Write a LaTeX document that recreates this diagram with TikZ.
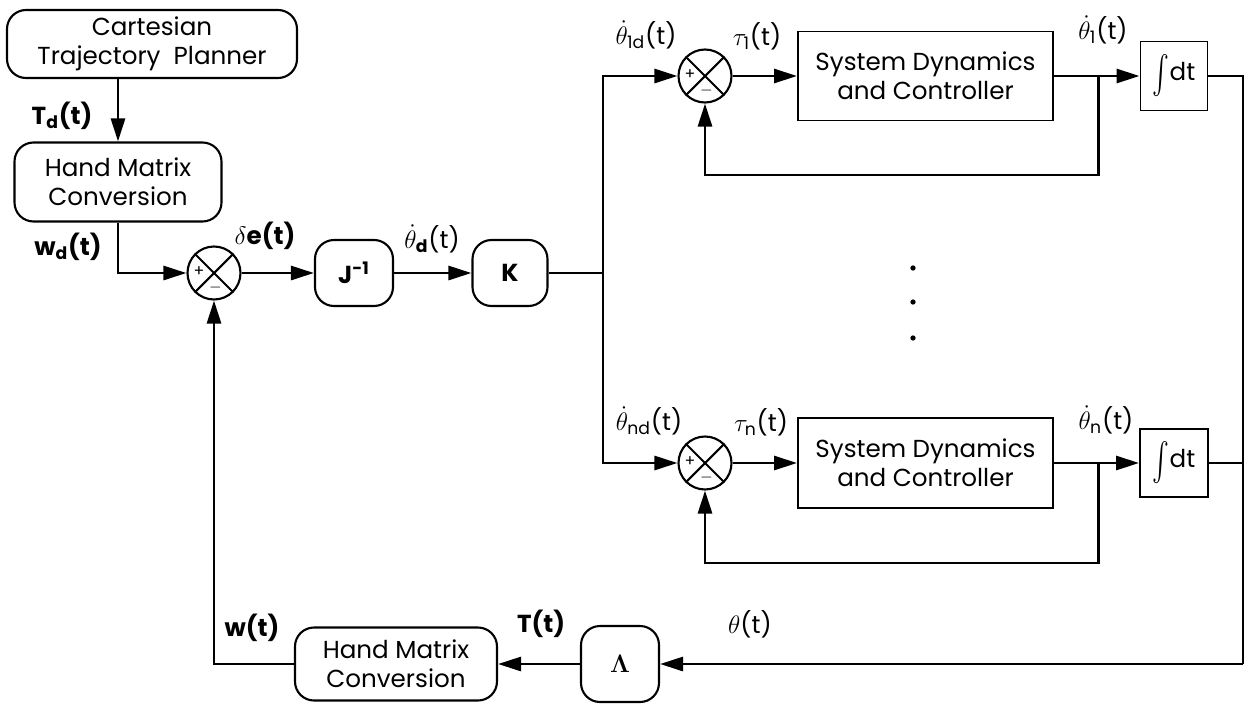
\documentclass[tikz,border=0pt]{standalone}
\usepackage{amsmath}
\usepackage{graphicx}
\usepackage[no-math]{fontspec}
\setmainfont{Poppins}
\usepackage{tikz}
\usetikzlibrary{arrows.meta, positioning, calc}

\newcommand{\intdt}{\raisebox{-0.35ex}{\scalebox{1}[1.5]{$\int$}}dt}

\begin{document}
\begin{tikzpicture}[
  font=\fontsize{14}{16.5}\selectfont,
  >={Triangle[length=0.46cm, width=0.28cm]},
  every node/.style={align=center, inner sep=1pt},
  rbox/.style={draw, rounded corners=0.38cm, line width=1.2pt, inner sep=2pt},
  sbox/.style={draw, line width=1.1pt, inner sep=2pt},
  sumnode/.style={draw, circle, line width=1.2pt, minimum size=1.06cm, inner sep=0pt},
  arr/.style={->, line width=1.6pt},
  ln/.style={line width=1.6pt}
]
\useasboundingbox (0,0) rectangle (25,-14.08);

%% ── Left column : planner and conversion ──────────────────────────────────
\node[rbox, minimum width=5.8cm, minimum height=1.36cm] (planner) at (3.04,-0.88)
      {Cartesian\\Trajectory\ \ Planner};
\node[rbox, minimum width=4.14cm, minimum height=1.58cm] (hm1) at (2.36,-3.64)
      {Hand Matrix\\Conversion};

\draw[arr] (hm1.north |- planner.south) -- (hm1.north);
\node at (1.24,-2.32) {\bfseries T$_{\text{d}}$(t)};

%% ── Forward path : error, inverse Jacobian, gain ──────────────────────────
\node[sumnode] (sum1) at (4.28,-5.46) {};
\node[rbox, minimum width=1.56cm, minimum height=1.32cm] (jinv) at (7.08,-5.46)
      {\bfseries J$^{\text{\bfseries -1}}$};
\node[rbox, minimum width=1.5cm, minimum height=1.32cm] (gain) at (10.2,-5.46)
      {\bfseries K};
\coordinate (split) at (12.06,-5.46);

\draw[arr] (hm1.south) |- (sum1.west);
\draw[arr] (sum1.east) -- (jinv.west);
\draw[arr] (jinv.east) -- (gain.west);
\draw[ln] (gain.east) -- (split);

\node at (1.36,-4.94) {\bfseries w$_{\text{d}}$(t)};
\node at (5.3,-4.72) {$\delta$\bfseries e(t)};
\node at (8.64,-4.78) {$\dot{\theta}_{\text{\bfseries d}}$(t)};

%% ── Joint 1 loop ──────────────────────────────────────────────────────────
\node[sumnode] (sumT) at (14.1,-1.52) {};
\node[sbox, minimum width=5.1cm, minimum height=1.78cm] (dyn1) at (18.51,-1.52)
      {System Dynamics\\and Controller};
\node[sbox, minimum width=1.34cm, minimum height=1.38cm] (int1) at (23.48,-1.52)
      {\intdt};
\coordinate (tap1) at (21.97,-1.52);

\draw[arr] (split) |- (sumT.west);
\draw[arr] (sumT.east) -- (dyn1.west);
\draw[arr] (dyn1.east) -- (int1.west);
\draw[arr] (tap1) -- ++(0,-1.98) -| (sumT.south);

\node at (12.92,-0.7) {$\dot{\theta}_{\text{1d}}$(t)};
\node at (15.14,-0.72) {$\tau_{\text{1}}$(t)};
\node at (22.06,-0.6) {$\dot{\theta}_{\text{1}}$(t)};

%% ── Joint n loop ──────────────────────────────────────────────────────────
\node[sumnode] (sumN) at (14.1,-9.26) {};
\node[sbox, minimum width=5.1cm, minimum height=1.8cm] (dynN) at (18.51,-9.26)
      {System Dynamics\\and Controller};
\node[sbox, minimum width=1.36cm, minimum height=1.36cm] (intN) at (23.48,-9.26)
      {\intdt};
\coordinate (tapN) at (21.97,-9.26);

\draw[arr] (split) |- (sumN.west);
\draw[arr] (sumN.east) -- (dynN.west);
\draw[arr] (dynN.east) -- (intN.west);
\draw[arr] (tapN) -- ++(0,-2.0) -| (sumN.south);

\node at (12.98,-8.42) {$\dot{\theta}_{\text{nd}}$(t)};
\node at (15.22,-8.44) {$\tau_{\text{n}}$(t)};
\node at (22.12,-8.4) {$\dot{\theta}_{\text{n}}$(t)};

\foreach \y in {-5.36,-6.04,-6.76}
  \fill (18.26,\y) circle (1.5pt);

%% ── Sum junction marks ────────────────────────────────────────────────────
\foreach \s in {sum1, sumT, sumN} {
  \draw[line width=1.2pt] (\s.north west) -- (\s.south east);
  \draw[line width=1.2pt] (\s.north east) -- (\s.south west);
  \node[font=\small] at ($(\s.center)+(-0.3,0.03)$) {+};
  \node[font=\small] at ($(\s.center)+(0.03,-0.3)$) {$-$};
}

%% ── Feedback path ─────────────────────────────────────────────────────────
\coordinate (corner) at (24.86,-13.28);
\node[rbox, minimum width=1.56cm, minimum height=1.52cm] (lam) at (12.4,-13.28)
      {$\boldsymbol{\Lambda}$};
\node[rbox, minimum width=4.04cm, minimum height=1.46cm] (hm2) at (7.92,-13.28)
      {Hand Matrix\\Conversion};

\draw[ln] (int1.east) -| (corner);
\draw[ln] (intN.east) -- (intN.east -| corner);
\draw[arr] (corner) -- (lam.east);
\draw[arr] (lam.west) -- (hm2.east);
\draw[arr] (hm2.west) -| (sum1.south);

\node at (5.04,-12.56) {\bfseries w(t)};
\node at (10.82,-12.48) {\bfseries T(t)};
\node at (15.0,-12.48) {$\theta$(t)};

\end{tikzpicture}
\end{document}
